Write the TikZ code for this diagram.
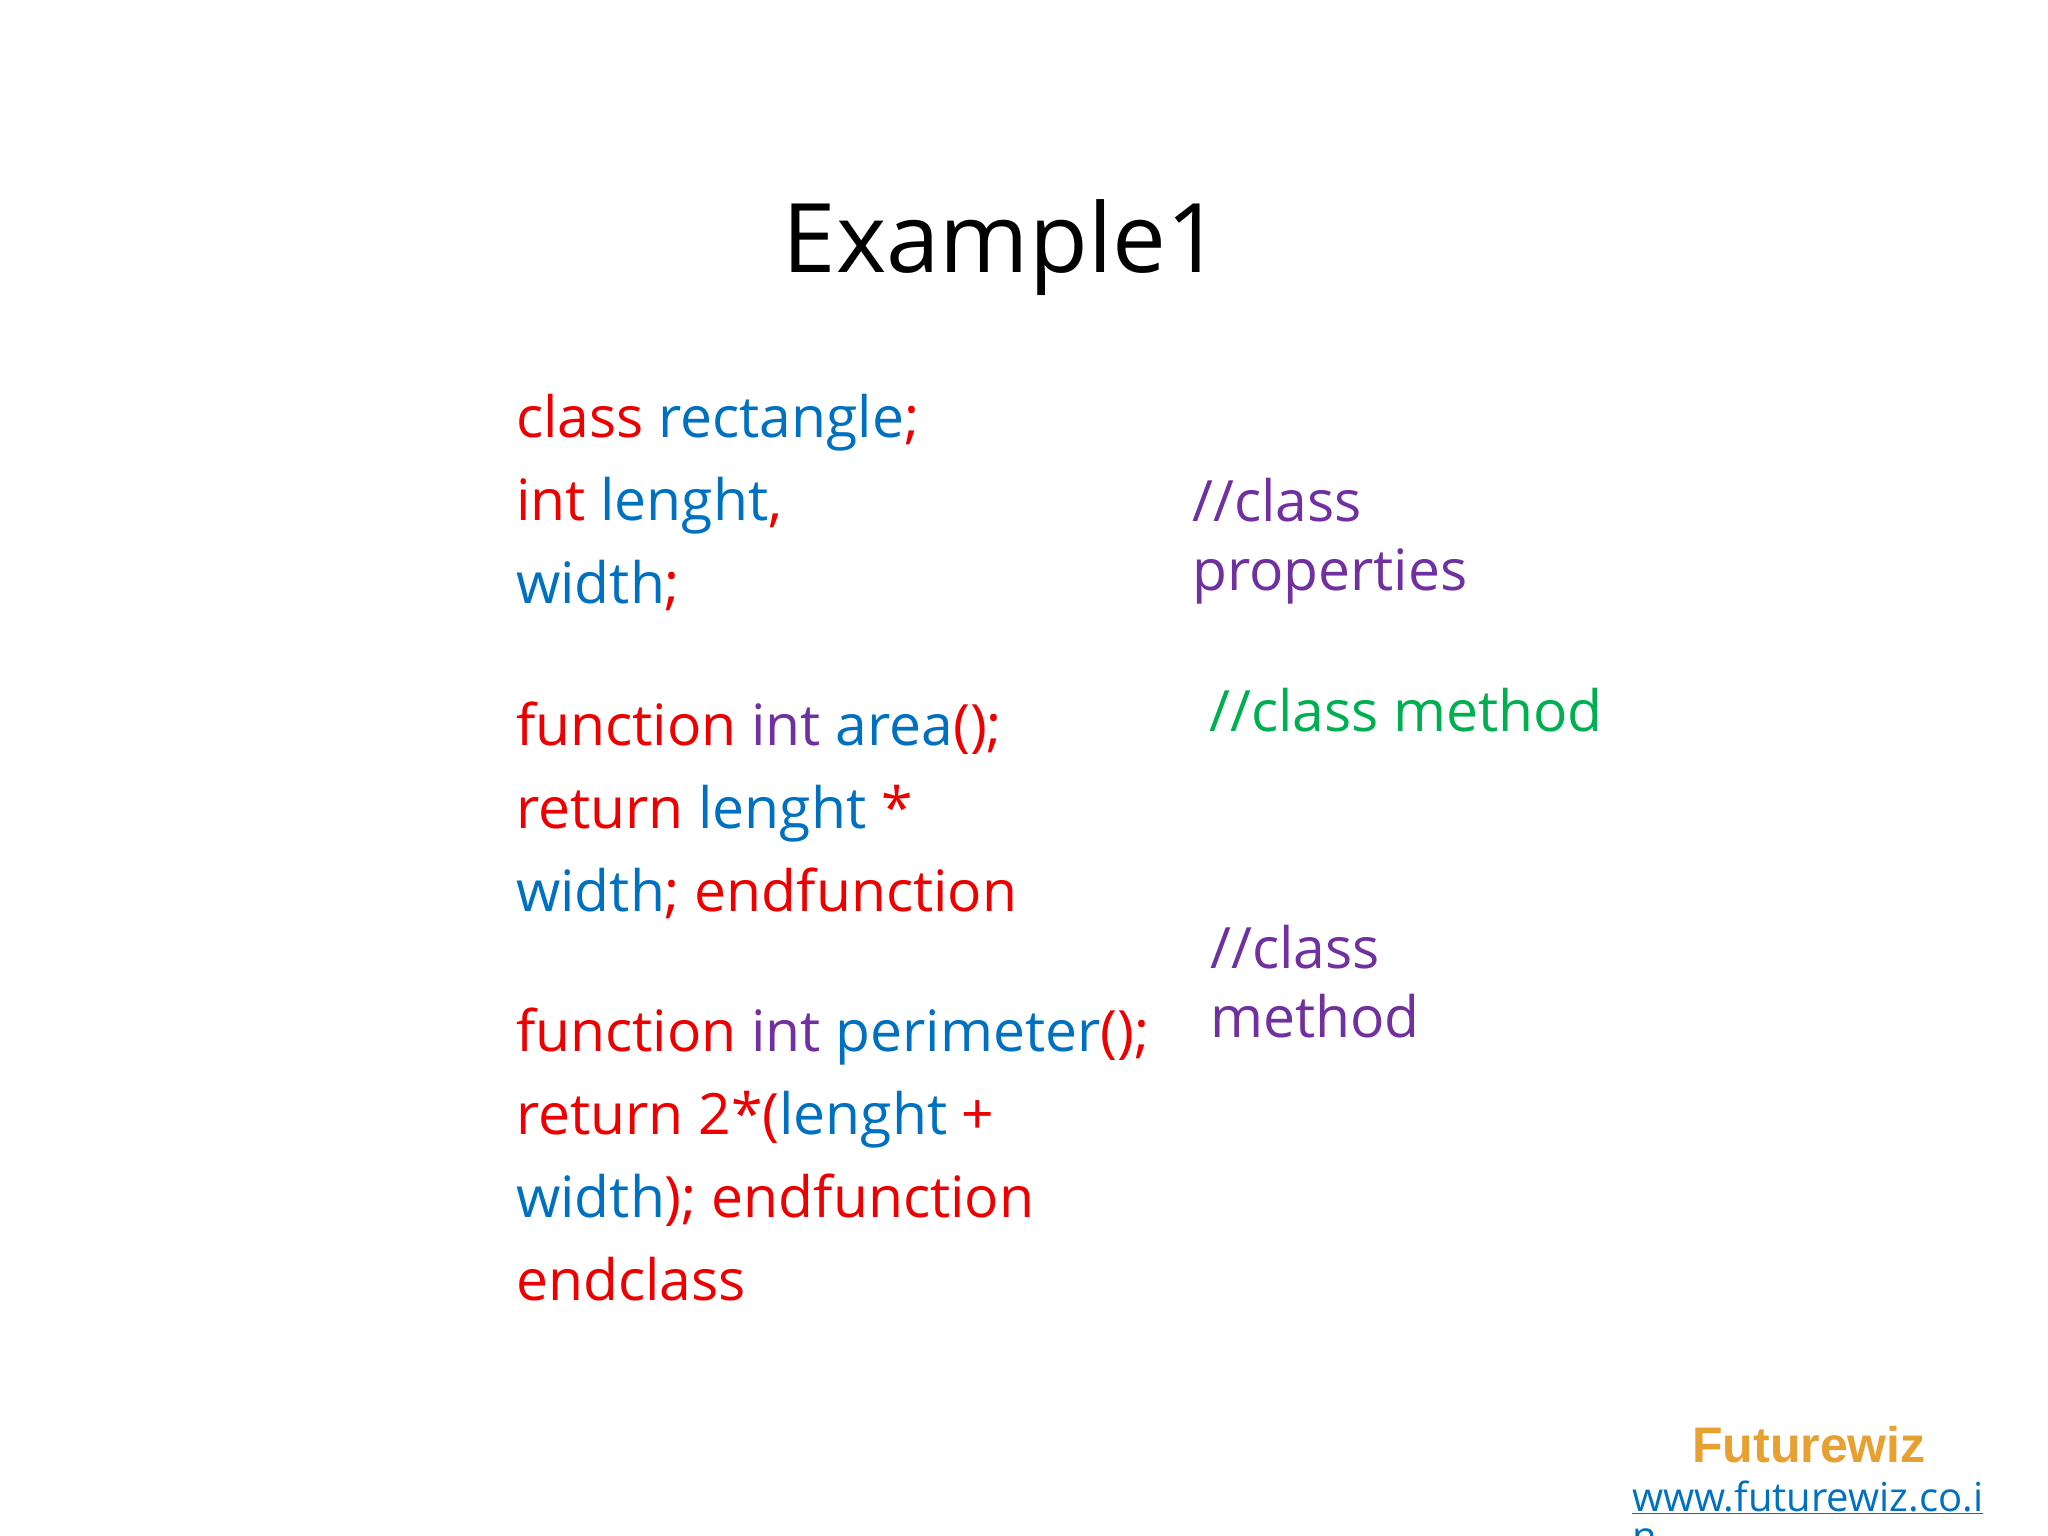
\documentclass[tikz,border=0pt]{standalone}
\usepackage{fontspec}
\setmainfont{Open Sans}
\newfontfamily\arialf{Liberation Sans}
\definecolor{cr}{HTML}{EE0000}
\definecolor{cb}{HTML}{0070C0}
\definecolor{cp}{HTML}{7030A0}
\definecolor{cg}{HTML}{00B050}
\definecolor{co}{HTML}{E8A030}
\begin{document}
\begin{tikzpicture}[x=1pt,y=-1pt,
  code/.style={anchor=base west,inner sep=0pt,font=\fontsize{57}{70}\selectfont},
  cmt/.style={anchor=base west,inner sep=0pt,font=\fontsize{57}{69}\selectfont}]
\useasboundingbox (0,0) rectangle (2048,1536);
\node[anchor=base,inner sep=0pt,font=\fontsize{96}{110}\selectfont] (title) at (1002,272) {Example1};
\node[code] (l1) at (516,437) {\color{cr}class \color{cb}rectangle\color{cr};};
\node[code] (l2) at (516,520) {\color{cr}int \color{cb}lenght\color{cr},};
\node[code] (l3) at (516,603) {\color{cb}width\color{cr};};
\node[code] (l4) at (516,745) {\color{cr}function \color{cp}int \color{cb}area\color{cr}();};
\node[code] (l5) at (516,828) {\color{cr}return \color{cb}lenght \color{cr}*};
\node[code] (l6) at (516,911) {\color{cb}width\color{cr}; endfunction};
\node[code] (l7) at (516,1051) {\color{cr}function \color{cp}int \color{cb}perimeter\color{cr}();};
\node[code] (l8) at (516,1134) {\color{cr}return 2*(\color{cb}lenght \color{cr}+};
\node[code] (l9) at (516,1217) {\color{cb}width\color{cr}); endfunction};
\node[code] (l10) at (516,1300) {\color{cr}endclass};
\node[cmt,text=cp] (c1a) at (1192,521) {//class};
\node[cmt,text=cp] (c1b) at (1192,590) {properties};
\node[cmt,text=cg] (c2) at (1209,731) {//class method};
\node[cmt,text=cp] (c3a) at (1210,968) {//class};
\node[cmt,text=cp] (c3b) at (1210,1037) {method};
\node[anchor=base,inner sep=0pt,text=co,font=\arialf\bfseries\fontsize{50}{56}\selectfont] (fw) at (1809,1462) {Futurewiz};
\node[anchor=base west,inner sep=0pt,text=cb,font=\fontsize{40}{44}\selectfont] (url) at (1632,1511) {\underline{www.futurewiz.co.i}};
\node[anchor=base west,inner sep=0pt,text=cb,font=\fontsize{40}{44}\selectfont] (url2) at (1632,1550) {n};
\end{tikzpicture}
\end{document}
